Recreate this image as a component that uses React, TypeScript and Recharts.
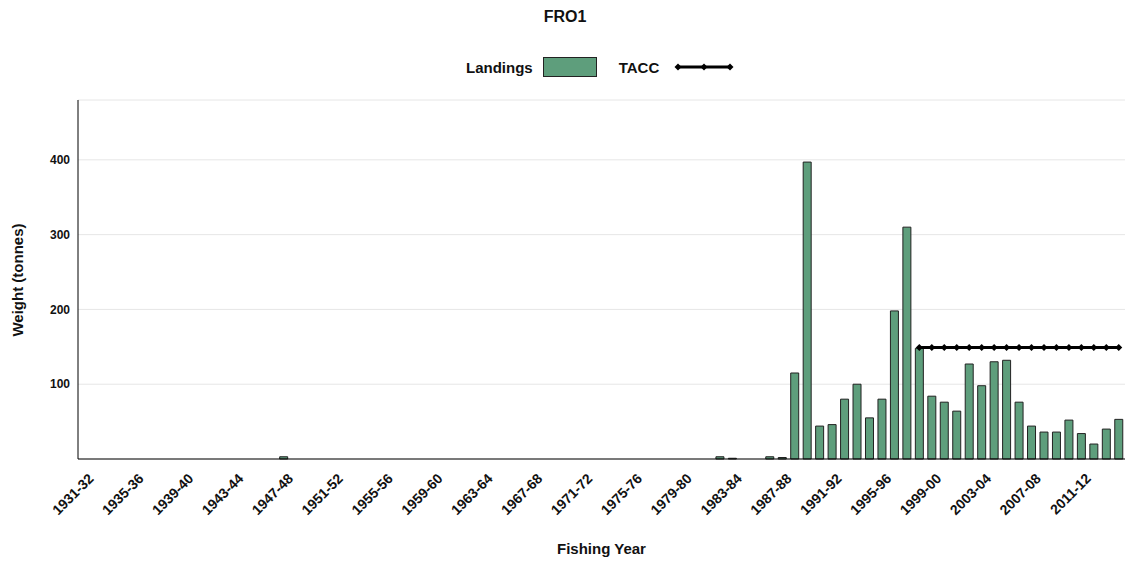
import { ComposedChart, Bar, Line, XAxis, YAxis, CartesianGrid } from "recharts"

const startYears = Array.from({ length: 84 }, (_, i) => 1931 + i)
const categories = startYears.map((y) => `${y}-${String((y + 1) % 100).padStart(2, "0")}`)

const landingsKnown: Record<string, number> = {
  "1947-48": 3, "1982-83": 3, "1983-84": 1, "1986-87": 3, "1987-88": 2,
  "1988-89": 115, "1989-90": 397, "1990-91": 44, "1991-92": 46, "1992-93": 80,
  "1993-94": 100, "1994-95": 55, "1995-96": 80, "1996-97": 198, "1997-98": 310,
  "1998-99": 148, "1999-00": 84, "2000-01": 76, "2001-02": 64, "2002-03": 127,
  "2003-04": 98, "2004-05": 130, "2005-06": 132, "2006-07": 76, "2007-08": 44,
  "2008-09": 36, "2009-10": 36, "2010-11": 52, "2011-12": 34, "2012-13": 20,
  "2013-14": 40, "2014-15": 53,
}
const taccStart = "1998-99"
const taccValue = 149
const yTicks = [100, 200, 300, 400]

const data = categories.map((c, i) => ({
  name: c,
  landings: landingsKnown[c] ?? 0,
  tacc: i >= categories.indexOf(taccStart) ? taccValue : null,
}))

const font = "'Liberation Sans', Arial, sans-serif"

function Tick({ x, y, payload }: any) {
  return (
    <text x={x + 4} y={y + 6} textAnchor="end" fontSize={14} fontWeight="bold" fill="#111"
      fontFamily={font} transform={`rotate(-45 ${x + 4} ${y + 6})`} dy={9}>
      {payload.value}
    </text>
  )
}

function Diamond({ cx, cy }: any) {
  if (cx == null || cy == null) return null
  return <path d={`M${cx - 3.5},${cy} L${cx},${cy - 3.5} L${cx + 3.5},${cy} L${cx},${cy + 3.5} Z`} fill="#000" />
}

export default function App() {
  return (
    <div style={{ position: "absolute", left: 0, top: 0, width: 1130, height: 567, background: "#fff", fontFamily: font, color: "#111" }}>
      <div style={{ position: "absolute", top: 8, width: "100%", textAlign: "center", fontWeight: "bold", fontSize: 16 }}>FRO1</div>
      <div style={{ position: "absolute", top: 57, left: 466, display: "flex", alignItems: "center", fontWeight: "bold", fontSize: 15 }}>
        <span>Landings</span>
        <span style={{ display: "inline-block", width: 52, height: 18, background: "#5e9e7c", border: "1px solid #222", margin: "0 22px 0 10px" }} />
        <span>TACC</span>
        <svg width={62} height={12} style={{ marginLeft: 14 }}>
          <line x1={4} y1={6} x2={58} y2={6} stroke="#000" strokeWidth={3} />
          {[5, 31, 57].map((cx) => <Diamond key={cx} cx={cx} cy={6} />)}
        </svg>
      </div>
      <div style={{ position: "absolute", left: 17, top: 280, transform: "translate(-50%,-50%) rotate(-90deg)", fontWeight: "bold", fontSize: 15, whiteSpace: "nowrap" }}>Weight (tonnes)</div>
      <div style={{ position: "absolute", top: 540, left: 78, right: 5, textAlign: "center", fontWeight: "bold", fontSize: 15 }}>Fishing Year</div>
      <div style={{ position: "absolute", left: 0, top: 0 }}>
        <ComposedChart width={1130} height={567} data={data} margin={{ top: 100, right: 5, left: 0, bottom: 0 }} barCategoryGap="18%">
          <CartesianGrid vertical={false} stroke="#e6e6e6" />
          <XAxis dataKey="name" interval={3} tick={<Tick />} tickLine={false} axisLine={{ stroke: "#000" }} height={108} />
          <YAxis domain={[0, 480]} ticks={yTicks} width={78} tickLine={false} axisLine={{ stroke: "#000" }}
            tick={{ fontSize: 12, fontWeight: "bold", fill: "#111", fontFamily: font }} />
          <Bar dataKey="landings" fill="#5e9e7c" stroke="#222" strokeWidth={1} isAnimationActive={false} />
          <Line dataKey="tacc" stroke="#000" strokeWidth={3} dot={<Diamond />} isAnimationActive={false} connectNulls={false} />
        </ComposedChart>
      </div>
    </div>
  )
}
